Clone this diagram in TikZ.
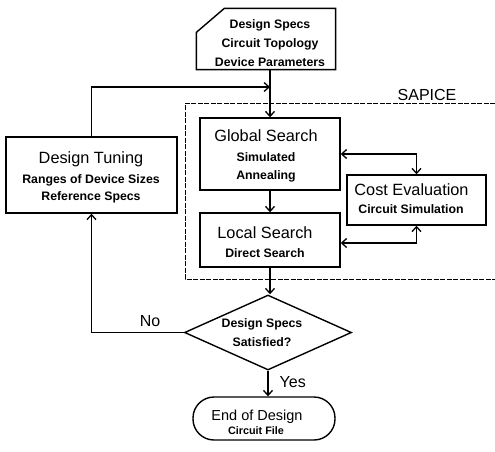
\documentclass[tikz,border=0pt]{standalone}
\usepackage{fontspec}
\setmainfont{Liberation Sans}
\usetikzlibrary{arrows.meta,shapes.geometric}

\begin{document}
\begin{tikzpicture}[x=1pt,y=-1pt,line width=1.3pt,
  box/.style={draw,rectangle,line width=1.4pt,inner sep=0pt},
  ttl/.style={anchor=base,inner sep=0pt,font=\fontsize{16.3}{18}\selectfont},
  sub/.style={anchor=base,inner sep=0pt,font=\bfseries\fontsize{12.3}{14}\selectfont},
  tip/.tip={Straight Barb[length=5pt,width=9pt]},
  flow/.style={-tip},
  twoway/.style={tip-tip},
  frame/.style={line width=0.8pt,dash pattern=on 5pt off 1.5pt}
]
\fill[white] (0,0) rectangle (495,451);
\useasboundingbox (0,0) rectangle (495,451);

% SAPICE frame (open to the right)
\draw[frame] (495,103) -- (185,103) -- (185,279) -- (495,279);
\node[anchor=base,inner sep=0pt,font=\fontsize{16}{18}\selectfont] (sapice) at (427,100) {SAPICE};

% input card with clipped corner
\node[rectangle,inner sep=0pt,minimum width=138pt,minimum height=60pt] (card) at (266,39) {};
\draw[line width=1.4pt] ([yshift=-24pt]card.north west) -- ([xshift=28pt]card.north west)
  -- (card.north east) -- (card.south east) -- (card.south west) -- cycle;
\node[sub] (cardA) at (270,28) {Design Specs};
\node[sub] (cardB) at (270,47) {Circuit Topology};
\node[sub] (cardC) at (270,66) {Device Parameters};

% process boxes
\node[box,minimum width=171pt,minimum height=76pt] (tune) at (91.5,175) {};
\node[ttl] (tuneA) at (91,163) {Design Tuning};
\node[sub] (tuneB) at (91,183) {Ranges of Device Sizes};
\node[sub] (tuneC) at (91,200) {Reference Specs};

\node[box,minimum width=140pt,minimum height=72pt] (glob) at (270,154) {};
\node[ttl] (globA) at (266,141) {Global Search};
\node[sub] (globB) at (266,161) {Simulated};
\node[sub] (globC) at (266,179) {Annealing};

\node[box,minimum width=140pt,minimum height=54pt] (loc) at (270,240) {};
\node[ttl] (locA) at (265,238) {Local Search};
\node[sub] (locB) at (265,257) {Direct Search};

\node[box,minimum width=139pt,minimum height=50pt] (cost) at (416.5,200) {};
\node[ttl] (costA) at (411.5,195) {Cost Evaluation};
\node[sub] (costB) at (411,213) {Circuit Simulation};

% decision
\node[diamond,draw,line width=1.4pt,inner sep=0pt,minimum width=167pt,minimum height=75pt] (dec) at (268,332.5) {};
\node[sub] (decA) at (262,327) {Design Specs};
\node[sub] (decB) at (262,346) {Satisfied?};

% terminal
\node[draw,rectangle,line width=1.4pt,rounded corners=21pt,minimum width=142pt,minimum height=43pt] (term) at (264,418.5) {};
\node[anchor=base,inner sep=0pt,font=\fontsize{14.5}{16}\selectfont] (termA) at (257,420) {End of Design};
\node[anchor=base,inner sep=0pt,font=\bfseries\fontsize{10.8}{12}\selectfont] (termB) at (256,434) {Circuit File};

% connectors
\coordinate (join) at (270,87);
\draw[flow] (card.south -| glob.north) -- (glob.north);
\draw[flow] (tune.north) |- (join);
\draw[flow] (glob.south) -- (loc.north);
\draw[flow] (loc.south) -- (loc.south |- dec.north);
\draw[twoway] (glob.east) -| (cost.north);
\draw[twoway] ([yshift=-3pt]loc.east) -| (cost.south);
\draw[flow] (dec.west) -| (tune.south);
\draw[flow] (dec.south) -- (dec.south |- term.north);

\node[anchor=base,inner sep=0pt,font=\fontsize{16}{18}\selectfont] (no) at (150,326) {No};
\node[anchor=base west,inner sep=0pt,font=\fontsize{16}{18}\selectfont] (yes) at (279,387) {Yes};
\end{tikzpicture}
\end{document}
